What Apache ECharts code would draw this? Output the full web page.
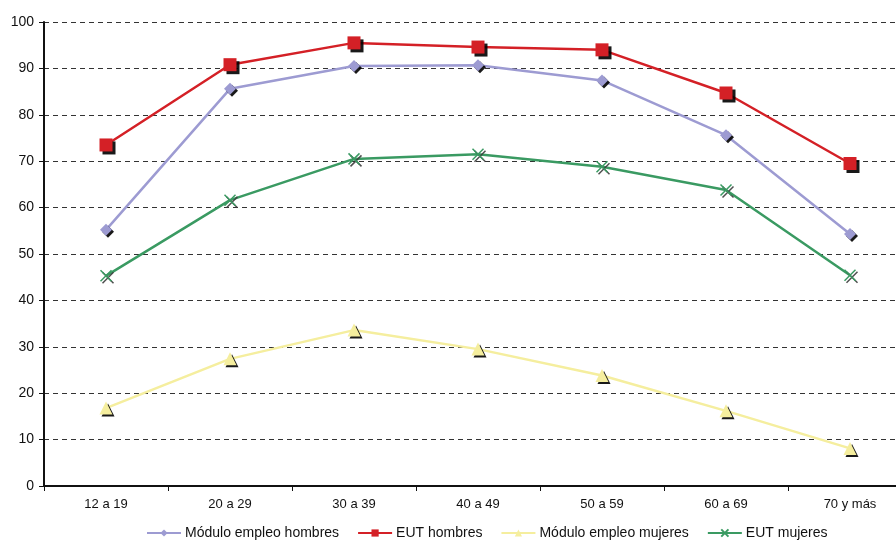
<!DOCTYPE html>
<html>
<head>
<meta charset="utf-8">
<script src="https://cdn.jsdelivr.net/npm/echarts@6/dist/echarts.min.js"></script>
<style>
  html, body { margin: 0; padding: 0; background: #fff; overflow: hidden; width: 896px; height: 542px; }
  /* the plot runs a little past the right edge of the page */
  #chart { width: 912px; height: 542px; }
</style>
</head>
<body>
<div id="chart"></div>
<script>
// Age groups on the category axis
const categories = ['12 a 19', '20 a 29', '30 a 39', '40 a 49', '50 a 59', '60 a 69', '70 y más'];

// Employment rates (%) per age group
const moduloHombres = [55.2, 85.6, 90.5, 90.7, 87.4, 75.6, 54.3];
const eutHombres    = [73.5, 90.8, 95.5, 94.6, 94.0, 84.7, 69.5];
const moduloMujeres = [16.8, 27.4, 33.6, 29.5, 23.8, 16.2, 8.1];
const eutMujeres    = [45.3, 61.6, 70.5, 71.5, 68.8, 63.8, 45.4];

const yTicks = [0, 10, 20, 30, 40, 50, 60, 70, 80, 90, 100];

const FONT = '"Liberation Sans", Arial, sans-serif';
const CROSS = 'path://M0,0 L10,10 M10,0 L0,10 M0,0 L10,10';

function makeSeries(name, data, color, symbol, size, extra) {
  return Object.assign({
    name: name,
    type: 'line',
    data: data,
    symbol: symbol,
    symbolSize: size,
    showAllSymbol: true,
    lineStyle: { color: color, width: 2.5 },
    itemStyle: {
      color: color,
      shadowColor: 'rgba(0,0,0,0.9)',
      shadowOffsetX: 2,
      shadowOffsetY: 2,
      shadowBlur: 0
    },
    emphasis: { disabled: true },
    animation: false
  }, extra || {});
}

const chart = echarts.init(document.getElementById('chart'), null, { renderer: 'canvas' });

chart.setOption({
  backgroundColor: '#ffffff',
  animation: false,
  textStyle: { fontFamily: FONT },
  grid: { left: 44, top: 22, right: 0, height: 464, containLabel: false },
  legend: {
    left: 141,
    top: 521,
    itemGap: 18,
    itemWidth: 34,
    itemHeight: 9,
    textStyle: { fontFamily: FONT, fontSize: 14, color: '#111', padding: [0, 0, 0, -1] },
    data: ['Módulo empleo hombres', 'EUT hombres', 'Módulo empleo mujeres', 'EUT mujeres']
  },
  xAxis: {
    type: 'category',
    data: categories,
    boundaryGap: true,
    axisLine: { lineStyle: { color: '#111', width: 2 } },
    axisTick: { show: true, length: 5, lineStyle: { color: '#111', width: 1 } },
    axisLabel: { color: '#111', fontSize: 13, margin: 12, fontFamily: FONT },
    splitLine: { show: false }
  },
  yAxis: {
    type: 'value',
    min: yTicks[0],
    max: yTicks[yTicks.length - 1],
    interval: 10,
    axisLine: { show: true, lineStyle: { color: '#111', width: 2 } },
    axisTick: { show: true, length: 5, lineStyle: { color: '#111', width: 1 } },
    axisLabel: { color: '#111', fontSize: 14, margin: 10, fontFamily: FONT },
    splitLine: { show: true, lineStyle: { color: '#333', width: 1, type: [5, 4] } }
  },
  series: [
    makeSeries('Módulo empleo hombres', moduloHombres, '#9D9BD2', 'diamond', 12),
    makeSeries('EUT hombres', eutHombres, '#D42026', 'rect', 13, {
      itemStyle: {
        color: '#D42026',
        shadowColor: 'rgba(0,0,0,0.9)', shadowOffsetX: 3, shadowOffsetY: 3, shadowBlur: 0
      }
    }),
    makeSeries('Módulo empleo mujeres', moduloMujeres, '#F5EE9E', 'triangle', 13),
    makeSeries('EUT mujeres', eutMujeres, '#3A9A62', CROSS, 11, {
      itemStyle: {
        color: 'none', borderColor: '#3A9A62', borderWidth: 1.5,
        shadowColor: 'rgba(60,60,60,0.9)', shadowOffsetX: 2, shadowOffsetY: 2, shadowBlur: 0
      }
    })
  ]
});
</script>
</body>
</html>
